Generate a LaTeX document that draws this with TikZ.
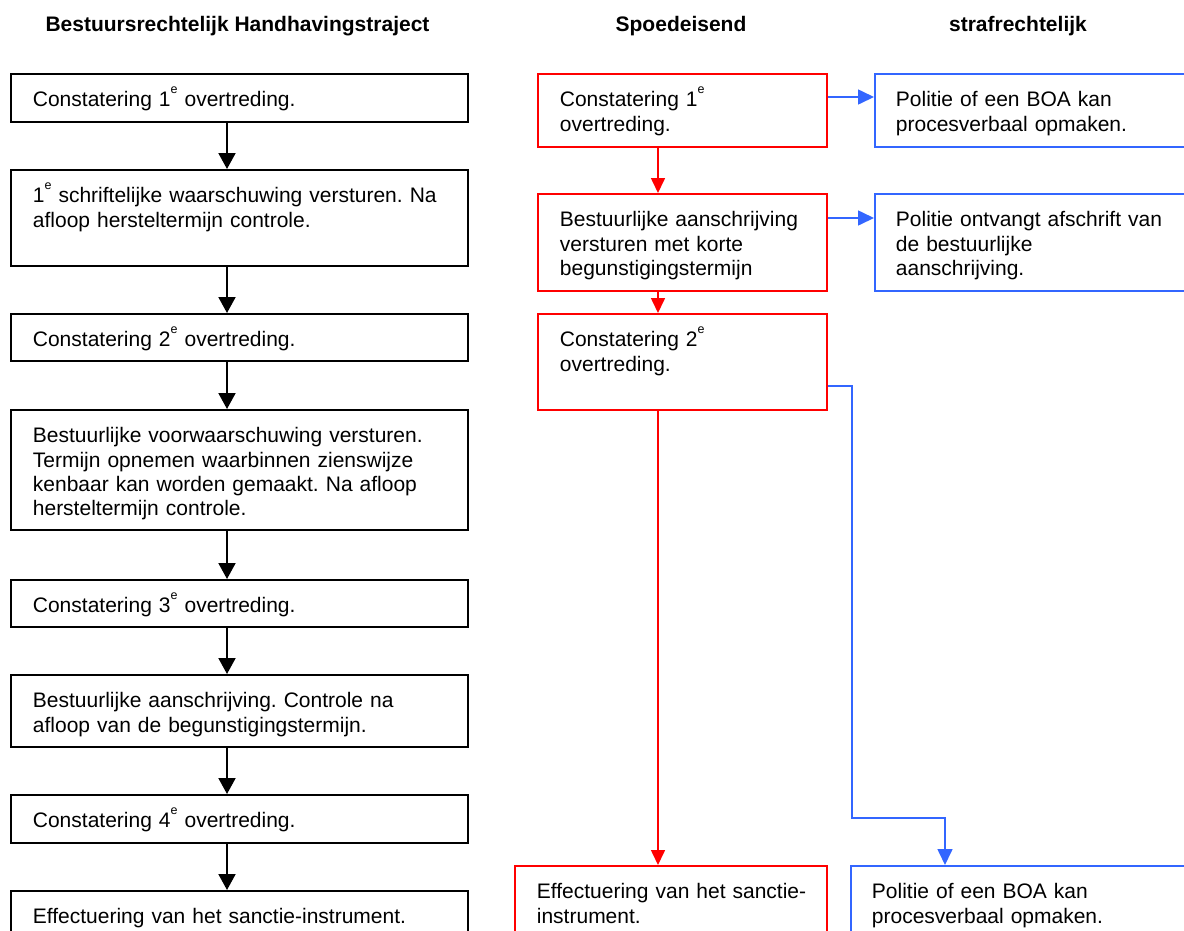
\documentclass[tikz,border=0pt]{standalone}
\usepackage{fontspec}
\setmainfont{Liberation Sans}
\usetikzlibrary{arrows.meta}
\definecolor{myblue}{RGB}{51,102,255}
\frenchspacing
\newcommand\mainsize{\fontsize{21}{24.2}\selectfont}
\newcommand\eSup{\raisebox{13.5pt}{\fontsize{12.5}{12.5}\selectfont e}}
\tikzset{
  base/.style={anchor=north west, inner xsep=22pt, inner ysep=0pt, align=left,
    text height=33pt, line width=1.8pt, font=\mainsize},
  blk/.style={base, draw=black},
  redb/.style={base, draw=red},
  blub/.style={base, draw=myblue, inner xsep=21pt},
  arrB/.style={draw=black, line width=2pt, -{Triangle[width=17pt,length=16pt]}},
  arrR/.style={draw=red, line width=1.6pt, -{Triangle[width=14pt,length=15pt]}},
  arrU/.style={draw=myblue, line width=1.6pt, -{Triangle[width=15pt,length=16pt]}},
  head/.style={font=\mainsize\bfseries, anchor=base, inner sep=0pt}
}
\begin{document}
\begin{tikzpicture}[x=1pt,y=-1pt]
\useasboundingbox (0,0) rectangle (1184,930);
% headers
\node[head] (h1) at (237.5,31) {Bestuursrechtelijk Handhavingstraject};
\node[head] (h2) at (681,31) {Spoedeisend};
\node[head] (h3) at (1018,31) {strafrechtelijk};
% left column
\node[blk, text width=413pt, text depth=15pt] (L1) at (10,73) {\mbox{Constatering 1\eSup{} overtreding.}};
\node[blk, text width=413pt, text depth=63pt] (L2) at (10,169) {\mbox{1\eSup{} schriftelijke waarschuwing versturen. Na}\\\mbox{afloop hersteltermijn controle.}};
\node[blk, text width=413pt, text depth=14pt] (L3) at (10,313) {\mbox{Constatering 2\eSup{} overtreding.}};
\node[blk, text width=413pt, text depth=87pt] (L4) at (10,409) {\mbox{Bestuurlijke voorwaarschuwing versturen.}\\\mbox{Termijn opnemen waarbinnen zienswijze}\\\mbox{kenbaar kan worden gemaakt. Na afloop}\\\mbox{hersteltermijn controle.}};
\node[blk, text width=413pt, text depth=14pt] (L5) at (10,579) {\mbox{Constatering 3\eSup{} overtreding.}};
\node[blk, text width=413pt, text depth=39pt] (L6) at (10,674) {\mbox{Bestuurlijke aanschrijving. Controle na}\\\mbox{afloop van de begunstigingstermijn.}};
\node[blk, text width=413pt, text depth=15pt] (L7) at (10,794) {\mbox{Constatering 4\eSup{} overtreding.}};
\node[blk, text width=413pt, text depth=37pt] (L8) at (10,890) {\mbox{Effectuering van het sanctie-instrument.}};
\coordinate (axL) at (227,0);
\draw[arrB] (L1.south -| axL) -- (L2.north -| axL);
\draw[arrB] (L2.south -| axL) -- (L3.north -| axL);
\draw[arrB] (L3.south -| axL) -- (L4.north -| axL);
\draw[arrB] (L4.south -| axL) -- (L5.north -| axL);
\draw[arrB] (L5.south -| axL) -- (L6.north -| axL);
\draw[arrB] (L6.south -| axL) -- (L7.north -| axL);
\draw[arrB] (L7.south -| axL) -- (L8.north -| axL);
% middle (red) column
\node[redb, text width=245pt, text depth=40pt] (R1) at (537,73) {\mbox{Constatering 1\eSup}\\\mbox{overtreding.}};
\node[redb, text width=245pt, text depth=64pt] (R2) at (537,193) {\mbox{Bestuurlijke aanschrijving}\\\mbox{versturen met korte}\\\mbox{begunstigingstermijn}};
\node[redb, text width=245pt, text depth=63pt] (R3) at (537,313) {\mbox{Constatering 2\eSup}\\\mbox{overtreding.}};
\node[redb, text width=268pt, text depth=37pt] (R4) at (514,865) {\mbox{Effectuering van het sanctie-}\\\mbox{instrument.}};
\coordinate (axR) at (658,0);
\draw[arrR] (R1.south -| axR) -- (R2.north -| axR);
\draw[arrR] (R2.south -| axR) -- (R3.north -| axR);
\draw[arrR] (R3.south -| axR) -- (R4.north -| axR);
% right (blue) column
\node[blub, text width=271pt, text depth=40pt] (B1) at (874,73) {\mbox{Politie of een BOA kan}\\\mbox{procesverbaal opmaken.}};
\node[blub, text width=271pt, text depth=64pt] (B2) at (874,193) {\mbox{Politie ontvangt afschrift van}\\\mbox{de bestuurlijke}\\\mbox{aanschrijving.}};
\node[blub, text width=295pt, text depth=37pt] (B3) at (850,865) {\mbox{Politie of een BOA kan}\\\mbox{procesverbaal opmaken.}};
\draw[arrU] ([yshift=-24pt]R1.north east) -- ([yshift=-24pt]B1.north west);
\draw[arrU] ([yshift=-25pt]R2.north east) -- ([yshift=-25pt]B2.north west);
\coordinate (bend) at (945,818);
\draw[arrU] ([yshift=-73pt]R3.north east) -- ++(24,0) |- (bend) -- (bend |- B3.north);
\end{tikzpicture}
\end{document}
